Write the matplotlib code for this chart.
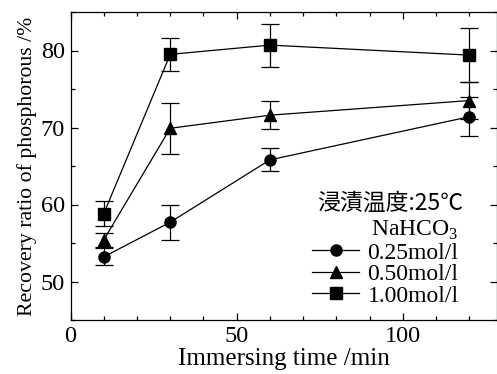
import matplotlib
matplotlib.use("Agg")
import matplotlib.pyplot as plt
from matplotlib.lines import Line2D
from matplotlib.ticker import MultipleLocator

plt.rcParams['font.family'] = ['Liberation Serif', 'Noto Sans CJK JP']
plt.rcParams['mathtext.fontset'] = 'custom'
plt.rcParams['mathtext.rm'] = 'Liberation Serif'

time_min = [10, 30, 60, 120]
labels = ['0.25mol/l', '0.50mol/l', '1.00mol/l']
markers = ['o', '^', 's']
recovery = [
    [53.2, 57.7, 65.8, 71.4],
    [55.4, 69.9, 71.6, 73.5],
    [58.8, 79.5, 80.7, 79.4],
]
errors = [
    [1.1, 2.3, 1.5, 2.5],
    [0.9, 3.3, 1.8, 2.4],
    [1.6, 2.1, 2.8, 3.5],
]

fig = plt.figure(figsize=(4.97, 3.74), dpi=100)
ax = fig.add_axes([70.5 / 497, 1 - 320 / 374, 1 - 70.5 / 497, (320 - 12) / 374])

handles = []
for y, e, m, lab in zip(recovery, errors, markers, labels):
    ax.errorbar(time_min, y, yerr=e, color='black', marker=m, markersize=8,
                linewidth=0.9, elinewidth=0.9, capsize=6.5, capthick=0.9)
    handles.append(Line2D([], [], color='black', marker=m, markersize=8,
                          linewidth=0.9, label=lab))

ax.set_xlim(0, 128.3)
ax.set_ylim(45, 85)
ax.xaxis.set_major_locator(MultipleLocator(50))
ax.xaxis.set_minor_locator(MultipleLocator(10))
ax.yaxis.set_major_locator(MultipleLocator(10))
ax.yaxis.set_minor_locator(MultipleLocator(5))
ax.tick_params(which='both', direction='in', top=True, right=True, labelsize=17.5,
               width=0.9, colors='black')
ax.tick_params(which='major', length=5, pad=4)
ax.tick_params(which='minor', length=3)
for s in ax.spines.values():
    s.set_linewidth(0.9)

ax.set_xlabel('Immersing time /min', fontsize=18, labelpad=1)
ax.set_ylabel('Recovery ratio of phosphorous /%', fontsize=15.7, labelpad=3)

ax.text(0.921, 0.38, '浸漬温度:25℃', transform=ax.transAxes, ha='right', va='center',
        fontsize=16.5, family=['Noto Sans CJK JP'])

leg = ax.legend(handles=handles, loc='lower right', bbox_to_anchor=(0.91, 0.043),
                frameon=False, title='NaHCO$_3$', fontsize=17, title_fontsize=17,
                handlelength=2.0, handletextpad=0.34, labelspacing=0.0,
                borderaxespad=0.0, borderpad=0.0, alignment='right')

fig.savefig('out.png', dpi=100)
